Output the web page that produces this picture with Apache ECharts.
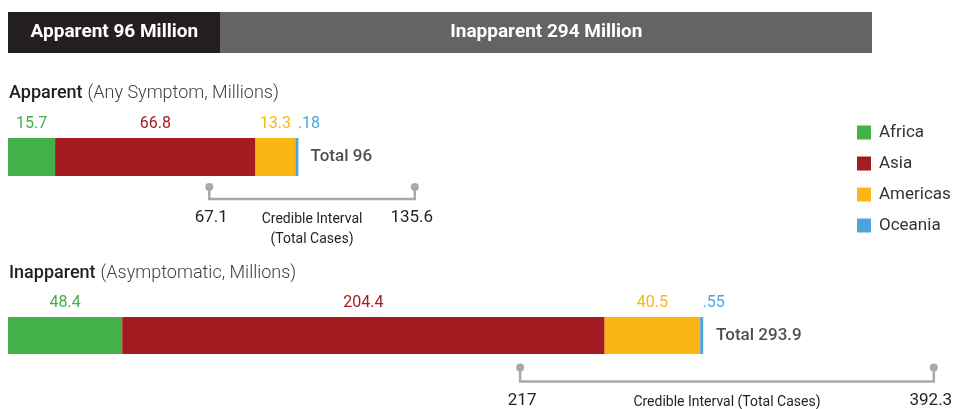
<!DOCTYPE html>
<html>
<head>
<meta charset="UTF-8">
<title>Apparent and inapparent cases</title>
<script type="text/javascript" src="https://cdn.jsdelivr.net/npm/echarts@6/dist/echarts.min.js"></script>
<style>
  html, body { margin: 0; padding: 0; background: #fff; }
</style>
</head>
<body>
<div id="box" style="width:958px;height:409px;"></div>

<script type="text/javascript">
// data
var regions = ['Africa', 'Asia', 'Americas', 'Oceania'];
var regionColors = ['#43b04a', '#a31c22', '#fbb614', '#4ea5dc'];
var headerNames = ['Apparent', 'Inapparent'];
var headerValues = [96, 294];
var apparentValues = [15.7, 66.8, 13.3, 0.18];
var inapparentValues = [48.4, 204.4, 40.5, 0.55];
var totals = [96, 293.9];
var intervalLow = [67.1, 217];
var intervalHigh = [135.6, 392.3];
var intervalNotes = ['Credible Interval\n(Total Cases)', 'Credible Interval (Total Cases)'];

var FONT = 'Roboto';
var mychart = echarts.init(document.getElementById('box'));

function shortNum(v) {
  return String(v).replace(/^0\./, '.');
}

// header strip
var series = [];
headerNames.forEach(function (n, i) {
  series.push({
    name: n,
    type: 'bar',
    stack: 'h',
    xAxisIndex: 0,
    yAxisIndex: 0,
    barWidth: '100%',
    silent: true,
    itemStyle: { color: i === 0 ? '#231f20' : '#636466' },
    label: {
      show: true,
      position: 'inside',
      color: '#fff',
      fontFamily: FONT,
      fontWeight: 'bold',
      fontSize: 19,
      formatter: n + ' ' + headerValues[i] + ' Million'
    },
    data: [headerValues[i]]
  });
});

// one stacked bar row per group
[apparentValues, inapparentValues].forEach(function (vals, row) {
  var ax = row + 1;
  regions.forEach(function (r, i) {
    var last = i === regions.length - 1;
    series.push({
      name: r,
      type: 'bar',
      stack: 'row' + row,
      xAxisIndex: ax,
      yAxisIndex: ax,
      barWidth: '100%',
      barMinHeight: last ? 3 : 0,
      itemStyle: { color: regionColors[i] },
      label: {
        show: true,
        position: 'top',
        distance: 6,
        offset: last ? [12, 0] : [0, 0],
        color: regionColors[i],
        fontFamily: FONT,
        fontSize: 16,
        formatter: function (p) { return shortNum(p.value); }
      },
      data: [vals[i]]
    });
  });
  // total label
  series.push({
    name: 'total' + row,
    type: 'scatter',
    xAxisIndex: ax,
    yAxisIndex: ax,
    symbolSize: 1,
    itemStyle: { color: 'rgba(0,0,0,0)' },
    silent: true,
    label: {
      show: true,
      position: 'right',
      distance: 14,
      color: '#231f20',
      fontFamily: FONT,
      fontWeight: 500,
      fontSize: 17,
      formatter: 'Total ' + totals[row]
    },
    data: [[totals[row], 0]]
  });
  // credible interval bracket
  series.push({
    name: 'ci' + row,
    type: 'custom',
    xAxisIndex: ax,
    yAxisIndex: ax,
    silent: true,
    encode: { x: [0, 1], y: 2 },
    renderItem: function (params, api) {
      var a = api.coord([api.value(0), 0]);
      var b = api.coord([api.value(1), 0]);
      var dotY = a[1] + (row === 0 ? 30 : 32);
      var lineY = dotY + (row === 0 ? 12 : 14);
      var labY = a[1] + (row === 0 ? 61 : 65);
      var stroke = { stroke: '#a7a9ac', lineWidth: 2.5, fill: null };
      return {
        type: 'group',
        children: [
          { type: 'polyline', shape: { points: [[a[0], dotY], [a[0], lineY], [b[0], lineY], [b[0], dotY]] }, style: stroke },
          { type: 'circle', shape: { cx: a[0], cy: dotY, r: 4 }, style: { fill: '#a7a9ac' } },
          { type: 'circle', shape: { cx: b[0], cy: dotY, r: 4 }, style: { fill: '#a7a9ac' } },
          { type: 'text', style: { text: shortNum(api.value(0)), x: a[0] + 2, y: labY, align: 'center', verticalAlign: 'middle', fill: '#231f20', fontFamily: FONT, fontSize: 17 } },
          { type: 'text', style: { text: shortNum(api.value(1)), x: b[0] - 3, y: labY, align: 'center', verticalAlign: 'middle', fill: '#231f20', fontFamily: FONT, fontSize: 17 } },
          { type: 'text', style: { text: intervalNotes[row], x: (a[0] + b[0]) / 2, y: labY + (row === 0 ? 11 : 2), align: 'center', verticalAlign: 'middle', fill: '#231f20', fontFamily: FONT, fontSize: 14, lineHeight: 20 } }
        ]
      };
    },
    data: [[intervalLow[row], intervalHigh[row], 0]]
  });
});

function hiddenCat(i) {
  return { type: 'category', gridIndex: i, data: ['x'], show: false };
}
function hiddenVal(i, max) {
  return { type: 'value', gridIndex: i, min: 0, max: max, show: false };
}

mychart.setOption({
  animation: false,
  title: [{
    left: 4, top: 79,
    text: '{b|Apparent} {n|(Any Symptom, Millions)}',
    textStyle: {
      rich: {
        b: { fontFamily: FONT, fontWeight: 500, fontSize: 18, color: '#231f20' },
        n: { fontFamily: FONT, fontWeight: 300, fontSize: 18, color: '#414042' }
      }
    }
  }, {
    left: 4, top: 259,
    text: '{b|Inapparent} {n|(Asymptomatic, Millions)}',
    textStyle: {
      rich: {
        b: { fontFamily: FONT, fontWeight: 500, fontSize: 18, color: '#231f20' },
        n: { fontFamily: FONT, fontWeight: 300, fontSize: 18, color: '#414042' }
      }
    }
  }],
  legend: {
    data: regions,
    orient: 'vertical',
    left: 852, top: 119,
    icon: 'rect',
    itemWidth: 14, itemHeight: 14,
    itemGap: 14,
    selectedMode: false,
    textStyle: { fontFamily: FONT, fontSize: 17, color: '#333', padding: [0, 0, 0, 3] }
  },
  grid: [
    { left: 8, top: 12, width: 864, height: 41 },
    { left: 8, top: 138, width: 420, height: 38 },
    { left: 8, top: 317, width: 944, height: 37 }
  ],
  xAxis: [
    hiddenVal(0, headerValues[0] + headerValues[1]),
    hiddenVal(1, 140),
    hiddenVal(2, 400)
  ],
  yAxis: [hiddenCat(0), hiddenCat(1), hiddenCat(2)],
  series: series
});
</script>
</body>
</html>
